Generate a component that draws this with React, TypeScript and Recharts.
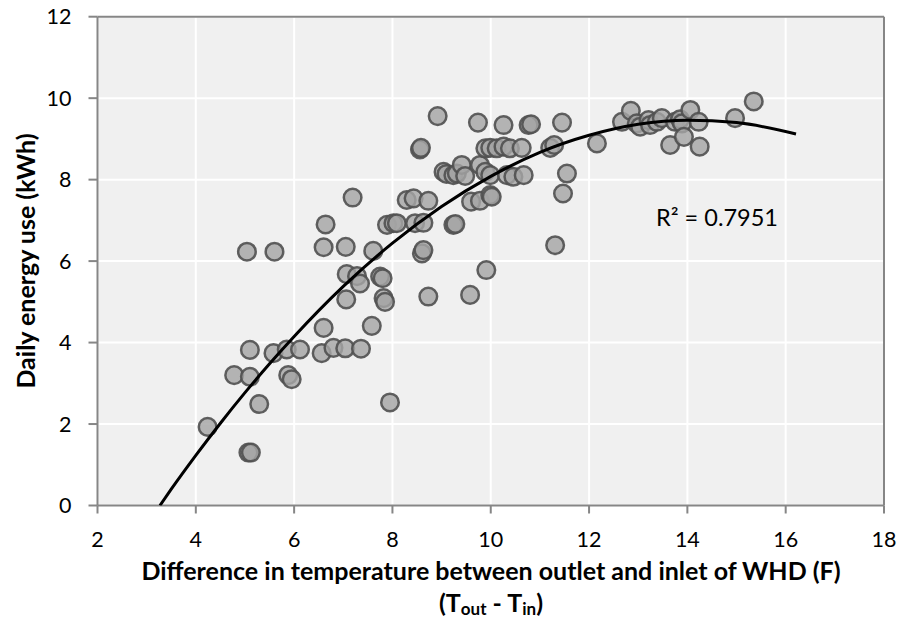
import { ScatterChart, Scatter, XAxis, YAxis, CartesianGrid, ReferenceLine } from 'recharts';

// temperature difference (F) per day
const deltaT = [
  4.24, 4.78, 5.04, 5.07, 5.12, 5.10, 5.10, 5.29, 5.58, 5.60, 5.85, 5.88, 5.95, 6.12,
  6.56, 6.60, 6.60, 6.64, 6.80, 7.04, 7.05, 7.06, 7.07, 7.19, 7.28, 7.34, 7.36, 7.58,
  7.61, 7.75, 7.80, 7.82, 7.85, 7.89, 7.95, 8.02, 8.09,
  8.29, 8.43, 8.46, 8.56, 8.58, 8.60, 8.63, 8.63, 8.73, 8.73, 8.92,
  9.04, 9.10, 9.24, 9.31, 9.41, 9.48, 9.24, 9.28,
  9.58, 9.60, 9.74, 9.78, 9.78, 9.89, 9.89, 9.91, 9.99, 9.99, 9.99, 10.02,
  10.12, 10.26, 10.26, 10.33, 10.39, 10.46, 10.63, 10.67, 10.77, 10.82,
  11.21, 11.29, 11.31, 11.45, 11.47, 11.55, 12.16,
  12.67, 12.85, 12.97, 13.04, 13.21, 13.24, 13.38, 13.48, 13.65, 13.75, 13.85, 13.89,
  13.93, 14.06, 14.23, 14.25, 14.97, 15.35,
];

// daily energy use (kWh), same order as deltaT
const dailyKwh = [
  1.93, 3.20, 6.23, 1.30, 1.30, 3.16, 3.82, 2.49, 3.74, 6.23, 3.83, 3.20, 3.10, 3.83,
  3.74, 4.36, 6.34, 6.90, 3.87, 3.86, 6.35, 5.06, 5.68, 7.56, 5.63, 5.45, 3.85, 4.41,
  6.25, 5.62, 5.58, 5.09, 5.00, 6.89, 2.53, 6.93, 6.93,
  7.50, 7.54, 6.93, 8.74, 8.78, 6.19, 6.27, 6.94, 7.48, 5.13, 9.56,
  8.19, 8.14, 8.11, 8.15, 8.36, 8.09, 6.89, 6.91,
  5.17, 7.46, 9.40, 8.36, 7.48, 8.19, 8.77, 5.78, 8.11, 8.78, 7.62, 7.58,
  8.77, 8.81, 9.34, 8.11, 8.77, 8.07, 8.78, 8.11, 9.34, 9.36,
  8.78, 8.85, 6.39, 9.40, 7.66, 8.15, 8.89,
  9.42, 9.69, 9.38, 9.30, 9.46, 9.34, 9.42, 9.51, 8.85, 9.42, 9.48, 9.38,
  9.05, 9.71, 9.42, 8.81, 9.51, 9.92,
];

// trend line
const trendX = [3.27, 3.5, 4, 4.5, 5, 5.5, 6, 7, 8, 9, 10, 11, 12, 13, 14, 15, 16.21];
const trendY = [0, 0.4, 1.23, 2.02, 2.77, 3.48, 4.15, 5.38, 6.44, 7.34, 8.08, 8.67, 9.09, 9.36, 9.46, 9.4, 9.12];

const xTicks = [2, 4, 6, 8, 10, 12, 14, 16, 18];
const yTicks = [0, 2, 4, 6, 8, 10, 12];

const points = deltaT.map((x, i) => ({ x, y: dailyKwh[i] }));
const trend = trendX.map((x, i) => ({ x, y: trendY[i] }));

const FONT = 'Lato, "Open Sans", sans-serif';
const AXIS = '#868686';

function Dot(props: any) {
  const { cx, cy } = props;
  return <circle cx={cx} cy={cy} r={8.8} fill="#a5a5a5" fillOpacity={0.82} stroke="#505050" strokeOpacity={0.9} strokeWidth={2.5} />;
}

const titleStyle: any = { position: 'absolute', whiteSpace: 'nowrap', fontSize: 25, fontWeight: 700, color: '#000' };

export default function App() {
  return (
    <div style={{ position: 'relative', width: 899, height: 619, background: '#fff', fontFamily: FONT }}>
      <style>{'body{margin:0}'}</style>
      <ScatterChart width={899} height={619} margin={{ top: 16.7, right: 15, bottom: 0, left: 0 }}>
        <CartesianGrid fill="#f0f0f0" stroke="#ffffff" strokeWidth={2} />
        <XAxis
          type="number" dataKey="x" domain={[2, 18]} ticks={xTicks} height={113.5}
          stroke={AXIS} strokeWidth={2} tickSize={8} tickMargin={18}
          tick={{ fill: '#000', fontSize: 21.5, fontFamily: FONT }}
          allowDataOverflow
        />
        <YAxis
          type="number" dataKey="y" domain={[0, 12]} ticks={yTicks} width={97.5}
          stroke={AXIS} strokeWidth={2} tickSize={9} tickMargin={17}
          tick={{ fill: '#000', fontSize: 21.5, fontFamily: FONT }}
          allowDataOverflow
        />
        <ReferenceLine y={12} stroke={AXIS} strokeWidth={2} />
        <ReferenceLine x={18} stroke={AXIS} strokeWidth={2} />
        <Scatter data={points} shape={<Dot />} isAnimationActive={false} />
        <Scatter
          data={trend} line={{ stroke: '#000', strokeWidth: 3 }} lineJointType="monotoneX"
          shape={() => null} isAnimationActive={false}
        />
      </ScatterChart>

      {/* y-axis title */}
      <div style={{ ...titleStyle, left: 25, top: 261, transform: 'translate(-50%, -50%) rotate(-90deg)' }}>
        Daily energy use (kWh)
      </div>
      {/* x-axis title */}
      <div style={{ ...titleStyle, left: 491, top: 570, transform: 'translate(-50%, -50%)' }}>
        Difference in temperature between outlet and inlet of WHD (F)
      </div>
      <div style={{ ...titleStyle, left: 491, top: 603, transform: 'translate(-50%, -50%)' }}>
        (T<span style={{ fontSize: 17, verticalAlign: '-0.15em' }}>out</span> - T<span style={{ fontSize: 17, verticalAlign: '-0.15em' }}>in</span>)
      </div>
      {/* R squared */}
      <div style={{ position: 'absolute', left: 717, top: 217, transform: 'translate(-50%, -50%)', whiteSpace: 'nowrap', fontSize: 23.5 }}>
        R² = 0.7951
      </div>
    </div>
  );
}
